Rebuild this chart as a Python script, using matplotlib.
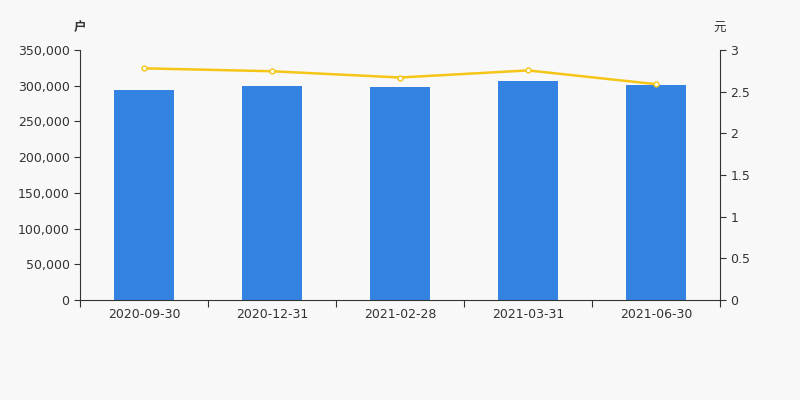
import matplotlib
matplotlib.use('Agg')
import matplotlib.pyplot as plt
import numpy as np

plt.rcParams['font.family'] = ['DejaVu Sans', 'Noto Sans CJK SC']

dates = ["2020-09-30", "2020-12-31", "2021-02-28", "2021-03-31", "2021-06-30"]
holders = [294000, 299500, 298500, 306000, 300500]   # 户
avg_value = [2.78, 2.745, 2.67, 2.755, 2.59]         # 元

bg = "#f8f8f8"
fig = plt.figure(figsize=(8, 4), dpi=100, facecolor=bg)
ax = fig.add_axes([0.1, 0.25, 0.8, 0.625], facecolor=bg)
ax2 = ax.twinx()

x = np.arange(len(dates))
ax.bar(x, holders, width=0.47, color="#3482e2", zorder=2)
ax2.plot(x, avg_value, color="#f5c518", lw=1.8, marker="o", ms=3.5,
         markerfacecolor="white", markeredgecolor="#f5c518", markeredgewidth=1, zorder=3)

ax.set_xlim(-0.5, len(dates) - 0.5)
ax.set_ylim(0, 350000)
ax.set_yticks(np.arange(0, 350001, 50000))
ax.set_yticklabels([f"{v:,}" for v in range(0, 350001, 50000)])
ax2.set_ylim(0, 3)
ax2.set_yticks([0, 0.5, 1, 1.5, 2, 2.5, 3])
ax2.set_yticklabels(["0", "0.5", "1", "1.5", "2", "2.5", "3"])

# ticks at category boundaries, labels at centers
ax.set_xticks(np.arange(-0.5, len(dates), 1))
ax.set_xticklabels([])
ax.set_xticks(x, minor=True)
ax.set_xticklabels(dates, minor=True)
ax.tick_params(axis='x', which='minor', length=0, pad=6)
ax.tick_params(axis='x', which='major', length=5, color="#333333")

for a in (ax, ax2):
    a.spines['top'].set_visible(False)
    for s in ('left', 'right', 'bottom'):
        a.spines[s].set_color("#333333")
    a.tick_params(axis='y', length=4, color="#333333", labelsize=9, labelcolor="#333333")
ax.tick_params(axis='x', which='both', labelsize=9, labelcolor="#333333")
ax2.spines['left'].set_visible(False)
ax2.spines['bottom'].set_visible(False)
ax.spines['right'].set_visible(False)

fig.text(0.1, 0.93, "户", ha='center', va='center', fontsize=9, color="#333333",
         family=['Noto Sans CJK SC', 'DejaVu Sans'], fontweight='bold')
fig.text(0.9, 0.93, "元", ha='center', va='center', fontsize=9, color="#333333",
         family=['Noto Sans CJK SC', 'DejaVu Sans'])

fig.savefig("out.png", dpi=100, facecolor=bg)
